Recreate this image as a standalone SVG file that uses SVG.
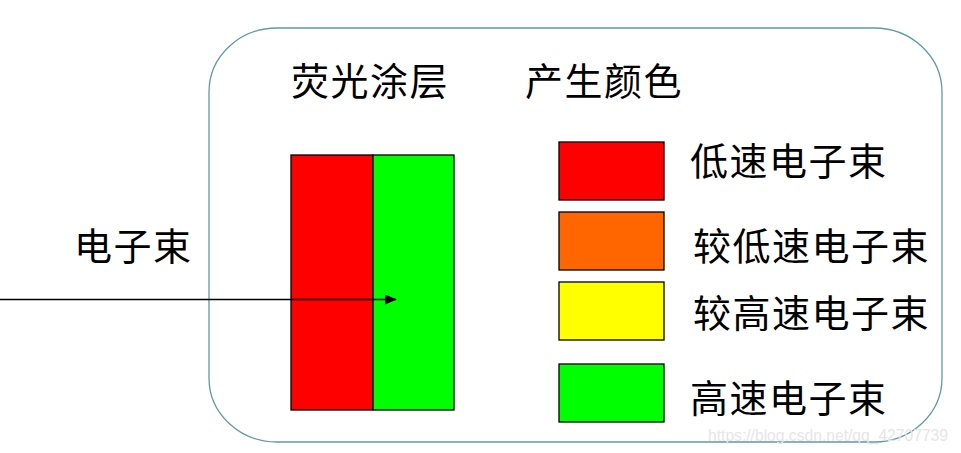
<svg xmlns="http://www.w3.org/2000/svg" width="961" height="453" viewBox="0 0 961 453">
  <style>
    .t { font-family: "Noto Sans CJK SC", "Noto Sans", sans-serif; font-size: 38px; fill: #000; letter-spacing: 1.5px; }
    .box { stroke: #000; stroke-width: 1.3; }
    .wm { font-family: "Liberation Sans", Arial, sans-serif; font-size: 16px; fill: #e6e6e6; }
  </style>
  <defs>
    <marker id="arr" markerWidth="12" markerHeight="10" refX="11" refY="5" orient="auto" markerUnits="userSpaceOnUse">
      <polygon points="0,0 12,5 0,10" fill="#000"/>
    </marker>
  </defs>
  <rect width="961" height="453" fill="#fff"/>
  <g id="frame">
    <rect x="209" y="28" width="733" height="414" rx="68" ry="64" fill="none" stroke="#5f9c9c" stroke-width="1.3"/>
  </g>
  <g id="titles">
    <text class="t" x="291" y="95">荧光涂层</text>
    <text class="t" x="525" y="95">产生颜色</text>
  </g>
  <g id="screen">
    <rect class="box" x="291" y="155" width="82" height="255" fill="#ff0000"/>
    <rect class="box" x="373" y="155" width="81" height="255" fill="#00ff00"/>
  </g>
  <g id="beam-label">
    <text class="t" x="74" y="260">电子束</text>
  </g>
  <g id="legend-low">
    <rect class="box" x="559" y="142" width="105" height="58" fill="#ff0000"/>
    <text class="t" x="690" y="175">低速电子束</text>
  </g>
  <g id="legend-midlow">
    <rect class="box" x="559" y="212" width="105" height="58" fill="#ff6600"/>
    <text class="t" x="693" y="260">较低速电子束</text>
  </g>
  <g id="legend-midhigh">
    <rect class="box" x="559" y="282" width="105" height="58" fill="#ffff00"/>
    <text class="t" x="693" y="327">较高速电子束</text>
  </g>
  <g id="legend-high">
    <rect class="box" x="559" y="364" width="105" height="58" fill="#00ff00"/>
    <text class="t" x="690" y="412">高速电子束</text>
  </g>
  <g id="connectors">
    <line x1="0" y1="299.5" x2="396" y2="299.5" stroke="#000" stroke-width="1.3" marker-end="url(#arr)"/>
  </g>
  <text class="wm" x="708" y="441" textLength="240" lengthAdjust="spacingAndGlyphs">https://blog.csdn.net/qq_42707739</text>
</svg>
